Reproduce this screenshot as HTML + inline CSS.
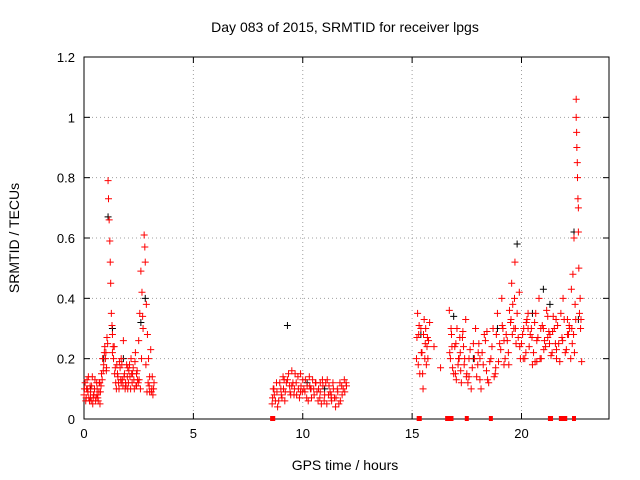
<!DOCTYPE html>
<html><head><meta charset="utf-8">
<style>
html,body{margin:0;padding:0;background:#fff;}
svg{display:block;font-family:"Liberation Sans",sans-serif;}
</style></head>
<body>
<svg id="chart" width="640" height="480" viewBox="0 0 640 480" xmlns="http://www.w3.org/2000/svg">
<rect width="640" height="480" fill="#fff"/>
<text x="345" y="32" font-size="14" text-anchor="middle" fill="#000">Day 083 of 2015, SRMTID for receiver lpgs</text>
<g id="grid"></g>
<g id="axes"></g>
<g id="marks"></g>
<text x="345" y="470" font-size="14" text-anchor="middle">GPS time / hours</text>
<text x="19" y="238" font-size="14" text-anchor="middle" transform="rotate(-90 19 238)">SRMTID / TECUs</text>
</svg>
<script>
const xTicks=[0,5,10,15,20];
const yTicks=[0,0.2,0.4,0.6,0.8,1,1.2];
const yTickLabels=["0","0.2","0.4","0.6","0.8","1","1.2"];
const redTimes=[0,0.05,0.1,0.15,0.2,0.25,0.3,0.35,0.4,0.45,0.5,0.55,0.6,0.65,0.7,0.75,0.8,0.85,0.9,0.95,1.0,1.05,1.1,1.12,1.15,1.18,1.2,1.22,1.25,1.3,1.35,1.4,1.45,1.5,1.55,1.6,1.65,1.7,1.75,1.8,1.85,1.9,1.95,2.0,2.05,2.1,2.15,2.2,2.25,2.3,2.35,2.4,2.45,2.5,2.55,2.6,2.65,2.7,2.75,2.78,2.8,2.85,2.9,2.95,3.0,3.05,3.1,3.15,3.2,0.3,0.6,1.3,1.7,2.0,2.4,3.0,0.12,0.42,0.72,1.02,1.38,1.62,1.92,2.22,2.52,2.88,
8.6,8.7,8.8,8.9,9.0,9.1,9.2,9.3,9.4,9.5,9.6,9.7,9.8,9.9,10.0,10.1,10.2,10.3,10.4,10.5,10.6,10.7,10.8,10.9,11.0,11.1,11.2,11.3,11.4,11.5,11.6,11.7,11.8,11.9,12.0,8.65,8.85,9.05,9.25,9.45,9.65,9.85,10.05,10.25,10.45,10.65,10.85,11.05,11.25,11.45,11.65,11.85,
15.2,15.25,15.3,15.35,15.4,15.45,15.5,15.55,15.6,15.65,15.7,15.8,
16.7,16.75,16.8,16.9,17.0,17.05,17.1,17.2,17.25,17.3,17.4,17.45,
17.5,17.6,17.7,17.8,17.9,18.0,18.1,18.2,18.3,18.4,18.5,
18.6,18.7,18.8,18.9,19.0,19.1,19.2,19.3,19.4,19.5,
19.55,19.6,19.65,19.7,19.75,19.8,19.9,19.95,
20.0,20.1,20.2,20.3,20.4,20.5,20.6,20.7,20.8,20.9,21.0,21.1,21.2,21.3,21.4,
21.5,21.6,21.7,21.8,21.9,22.0,22.1,22.2,
22.3,22.32,22.35,22.4,22.42,22.45,22.5,22.5,22.52,22.53,22.55,22.56,22.58,22.6,22.6,22.62,22.65,22.7,22.75,
16.0,16.3,17.6,18.1,19.2,20.3,20.7,21.2,21.6,22.1];
const redValues=[.08,.12,.07,.1,.14,.06,.09,.11,.05,.08,.13,.07,.1,.06,.12,.09,.15,.2,.18,.24,.22,.27,.79,.73,.66,.59,.52,.45,.35,.28,.2,.15,.12,.18,.14,.1,.17,.2,.13,.26,.15,.12,.18,.1,.16,.14,.2,.12,.17,.1,.22,.15,.13,.26,.35,.49,.42,.3,.61,.57,.52,.38,.28,.2,.14,.23,.1,.08,.12,.07,.08,.22,.12,.17,.11,.09,.1,.07,.12,.16,.24,.19,.11,.15,.13,.09,
.05,.08,.12,.06,.1,.14,.09,.13,.11,.16,.08,.12,.1,.15,.13,.09,.11,.14,.07,.1,.12,.06,.09,.13,.08,.05,.11,.07,.1,.04,.09,.12,.08,.13,.11,.1,.04,.07,.12,.08,.15,.07,.1,.06,.13,.09,.05,.12,.09,.07,.05,.1,
.2,.35,.28,.15,.3,.22,.1,.33,.25,.18,.27,.32,
.36,.2,.28,.15,.25,.3,.18,.22,.12,.27,.2,.33,
.15,.2,.1,.25,.3,.18,.13,.22,.28,.16,.12,
.2,.3,.15,.35,.25,.4,.18,.28,.22,.32,
.45,.38,.3,.52,.25,.35,.42,.2,
.25,.3,.22,.35,.28,.18,.32,.26,.4,.2,.3,.24,.34,.28,.22,
.3,.2,.25,.35,.4,.22,.28,.3,
.3,.25,.48,.6,.22,.38,1.06,1.0,.95,.9,.85,.8,.73,.7,.62,.5,.35,.3,.19,
.24,.17,.14,.2,.26,.3,.19,.27,.23,.33];
const extraTimes=[0.02,0.08,0.14,0.18,0.22,0.28,0.33,0.38,0.44,0.48,0.53,0.58,0.63,0.68,0.73,0.78,0.83,0.88,0.93,0.98,1.03,1.08,1.28,1.33,1.43,1.48,1.53,1.58,1.68,1.73,1.78,1.83,1.88,1.98,2.03,2.08,2.13,2.18,2.28,2.33,2.38,2.43,2.48,2.58,2.63,2.68,2.83,2.93,2.98,3.08,3.12,3.18,
8.62,8.68,8.75,8.82,8.95,9.02,9.12,9.18,9.35,9.42,9.55,9.62,9.72,9.78,9.92,9.98,10.12,10.18,10.32,10.38,10.52,10.58,10.72,10.78,10.92,10.98,11.12,11.18,11.32,11.38,11.52,11.58,11.72,11.78,11.92,11.98,9.15,9.5,9.9,10.35,10.8,11.3,
15.22,15.28,15.32,15.42,15.48,15.52,15.58,15.62,15.68,15.72,15.75,
16.72,16.78,16.85,16.95,17.02,17.15,17.18,17.22,17.35,17.38,17.48,17.55,17.65,17.75,17.85,17.95,18.05,18.15,18.25,18.35,18.45,18.55,18.65,18.75,18.85,18.95,19.05,19.15,19.25,19.35,19.45,19.52,19.58,19.68,19.72,19.85,19.92,
20.05,20.15,20.25,20.35,20.45,20.55,20.65,20.75,20.85,20.95,21.05,21.15,21.25,21.35,21.45,21.55,21.65,21.75,21.85,21.95,22.05,22.15,22.25,22.28,22.38,22.48,22.68,22.72,
20.08,20.22,20.48,20.62,20.88,21.02,21.28,21.42,21.58,21.88,22.18,18.02,18.42,18.82,19.12,19.42,17.12,17.32,16.82,16.98];
const extraValues=[.1,.06,.13,.09,.07,.11,.06,.14,.08,.1,.06,.12,.07,.09,.05,.11,.13,.16,.22,.2,.17,.25,.31,.24,.17,.1,.15,.12,.13,.18,.11,.14,.1,.14,.12,.18,.1,.15,.13,.19,.11,.16,.12,.1,.2,.34,.18,.12,.11,.09,.14,.1,
.07,.1,.06,.09,.12,.08,.1,.06,.15,.09,.12,.1,.08,.14,.11,.09,.13,.07,.11,.1,.08,.12,.1,.07,.11,.06,.13,.08,.06,.12,.07,.1,.06,.11,.09,.12,.13,.11,.09,.1,.12,.08,
.27,.18,.31,.22,.15,.28,.2,.3,.24,.2,.26,
.22,.3,.17,.24,.13,.2,.27,.16,.24,.18,.14,.12,.23,.17,.2,.14,.25,.1,.18,.26,.13,.19,.24,.14,.28,.19,.23,.3,.2,.26,.36,.33,.28,.4,.3,.27,.24,
.28,.2,.33,.24,.3,.22,.35,.27,.2,.31,.26,.36,.29,.21,.34,.25,.31,.19,.27,.33,.23,.28,.2,.43,.28,.33,.4,.33,
.2,.32,.27,.19,.3,.23,.25,.29,.33,.26,.31,.22,.29,.17,.31,.18,.2,.29,.24,.15];
const blackTimes=[0.3,0.9,1.1,1.3,1.8,2.6,2.8,9.3,10.2,11.0,15.4,16.9,17.8,18.9,19.8,20.5,21.0,21.3,22.4,22.6];
const blackValues=[.1,.2,.67,.3,.2,.32,.4,.31,.12,.1,.28,.34,.2,.3,.58,.35,.43,.38,.62,.33];
const zeroTimes=[8.6,8.65,15.3,15.35,16.6,16.7,16.8,17.5,18.6,21.3,21.35,21.8,21.9,22.0,22.4];

const X0=84,X1=609,Y0=419,Y1=57,xMax=24,yMax=1.2;
const xs=t=>X0+(X1-X0)*t/xMax;
const ys=v=>Y0-(Y0-Y1)*v/yMax;
const NS="http://www.w3.org/2000/svg";
function mk(tag,attrs,parent){const e=document.createElementNS(NS,tag);for(const k in attrs)e.setAttribute(k,attrs[k]);parent.appendChild(e);return e;}
const grid=document.getElementById('grid'),axes=document.getElementById('axes'),marks=document.getElementById('marks');
xTicks.forEach(t=>{
  const x=xs(t);
  if(t>0){const l=mk('line',{x1:x,y1:Y0,x2:x,y2:Y1,stroke:'#a0a0a0','stroke-dasharray':'1,3','stroke-width':1},grid);
  
  }
  const tk=mk('line',{x1:x,y1:Y0,x2:x,y2:Y0-6,stroke:'#000'},axes);
  
  
  mk('line',{x1:x,y1:Y1,x2:x,y2:Y1+6,stroke:'#000'},axes);
  const tx=mk('text',{x:x,y:Y0+19,'font-size':13,'text-anchor':'middle'},axes);tx.textContent=String(t);
  
  
});
yTicks.forEach((v,i)=>{
  const y=ys(v);
  if(v>0&&v<yMax){const l=mk('line',{x1:X0,y1:y,x2:X1,y2:y,stroke:'#a0a0a0','stroke-dasharray':'1,3','stroke-width':1},grid);
  
  }
  const tk=mk('line',{x1:X0,y1:y,x2:X0+6,y2:y,stroke:'#000'},axes);
  
  
  mk('line',{x1:X1,y1:y,x2:X1-6,y2:y,stroke:'#000'},axes);
  const tx=mk('text',{x:X0-9,y:y+5,'font-size':13,'text-anchor':'end'},axes);tx.textContent=yTickLabels[i];
  
  
});
const frame=mk('rect',{x:X0,y:Y1,width:X1-X0,height:Y0-Y1,fill:'none',stroke:'#000'},axes);


function plus(t,v,color,name){
  const x=xs(t),y=ys(v);
  const p=mk('path',{d:`M${x-3.5},${y}H${x+3.5}M${x},${y-3.5}V${y+3.5}`,stroke:color,'stroke-width':1,fill:'none'},marks);
  
  
}
blackTimes.forEach((t,i)=>plus(t,blackValues[i],'#000','black-point'));
redTimes.forEach((t,i)=>plus(t,redValues[i],'#ff0000','red-point'));
extraTimes.forEach((t,i)=>plus(t,extraValues[i],'#ff0000','red-point'));
zeroTimes.forEach(t=>{
  const r=mk('rect',{x:xs(t)-2,y:Y0-3,width:4,height:5,fill:'#ff0000'},marks);
  
  
});
</script>
</body></html>
